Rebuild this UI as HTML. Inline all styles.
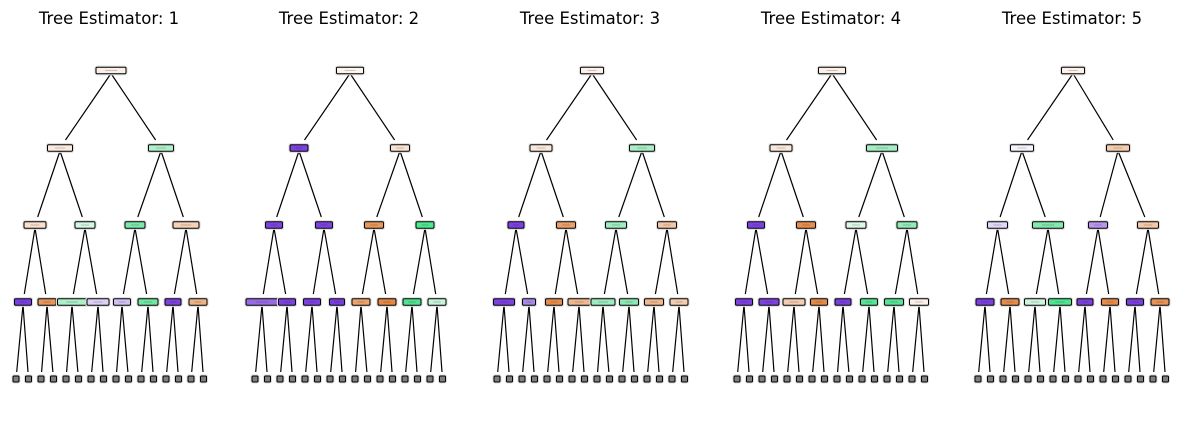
<!DOCTYPE html>
<html><head><meta charset="utf-8"><style>
html,body{margin:0;padding:0;background:#fff;}
svg{display:block;}
text{font-family:"DejaVu Sans","Liberation Sans",sans-serif;font-size:16.5px;fill:#000;}
</style></head><body>
<svg id="s" width="1182" height="427" viewBox="0 0 1182 427" xmlns="http://www.w3.org/2000/svg">
<rect width="1182" height="427" fill="#fff"/>
<g id="g"></g>
<text x="109" y="24" text-anchor="middle">Tree Estimator: 1</text>
<text x="349" y="24" text-anchor="middle">Tree Estimator: 2</text>
<text x="590" y="24" text-anchor="middle">Tree Estimator: 3</text>
<text x="831" y="24" text-anchor="middle">Tree Estimator: 4</text>
<text x="1072" y="24" text-anchor="middle">Tree Estimator: 5</text>
</svg>
<script>
var Y=[70.5,148,225,302,379];
var trees=[
{dx:0,x:[[111],[60,161],[35,85,135,186],[23,47,72,98,122,148,173,198]],
 w:[[30],[25,25],[22,20,20,26],[17,18,29,22,17,20,16,18]],
 c:[["#fbeee6"],["#fbeadf","#b0f0cb"],["#f9dfcc","#d3f7e2","#7ce9ab","#f6d1b5"],["#7b3ee0","#e9965a","#abf0c8","#ddd0f6","#d0c0f4","#6ee7a3","#7d42e1","#efb388"]]},
{dx:239,x:[[111],[60,161],[35,85,135,186],[23,48,73,98,122,148,173,198]],
 w:[[27],[18,19],[17,17,19,18],[32,17,17,15,18,18,18,18]],
 c:[["#fdf4ee"],["#7d40e1","#f8e3d3"],["#7d43e1","#7d43e1","#e9975b","#4de88f"],["#9a6ae6","#7c41e0","#7c41e0","#7a3de0","#eca36e","#e68844","#4fe490","#c6f4d9"]]},
{dx:481,x:[[111],[60,161],[35,85,135,186],[23,48,73,98,122,148,173,198]],
 w:[[23],[22,25],[16,19,21,19],[21,13,17,22,24,19,19,18]],
 c:[["#fcf1ea"],["#fae8dc","#a8efc6"],["#7d40e1","#eba06a","#9eedc0","#f3c7a6"],["#7c41e0","#a98ae9","#e78d4b","#f0b88f","#9cecbf","#8be9b3","#f0b88e","#f5cdb0"]]},
{dx:721,x:[[111],[60,161],[35,85,135,186],[23,48,73,98,122,148,173,198]],
 w:[[27],[22,31],[17,19,20,20],[17,20,22,17,16,17,19,19]],
 c:[["#fcefe6"],["#fae8dc","#a4eec4"],["#7d40e1","#e78e4e","#dcf9e8","#93ebb9"],["#7d40e1","#7d40e1","#f4cdb0","#e48a47","#7a3ee0","#55e596","#57e497","#fcf0e8"]]},
{dx:962,x:[[111],[60,156],[35.5,86,136,186],[23,48,73,98,123,148,173,198]],
 w:[[23],[23,23],[20,31,19,21],[18,18,21,23,16,17,17,18]],
 c:[["#fcf1ea"],["#f5f3fb","#f6ccae"],["#e0d6f8","#82eaae","#b995ee","#f4c7a6"],["#7b3fe0","#e68d4b","#cff5df","#4ee590","#7b3fe0","#e78c4a","#7b3fe0","#e89255"]]}
];
var out="";
trees.forEach(function(t){
  // leaves
  var lx=[];for(var i=0;i<16;i++)lx.push(16+12.5*i);
  var X=t.x.concat([lx]);
  // edges
  for(var l=0;l<4;l++){
    for(var i=0;i<X[l].length;i++){
      for(var k=0;k<2;k++){
        var px=X[l][i]+t.dx,py=Y[l]+3,cx=X[l+1][2*i+k]+t.dx,cy=Y[l+1];
        var ey=cy-(l==3?7:8);
        var f=(ey-py)/(cy-py);
        var ex=px+(cx-px)*f;
        out+='<line x1="'+px+'" y1="'+py+'" x2="'+ex.toFixed(1)+'" y2="'+ey+'" stroke="#000" stroke-width="1.2"/>';
      }
    }
  }
  for(var l=0;l<4;l++){
    for(var i=0;i<X[l].length;i++){
      var w=t.w[l][i],h=6.5,x=X[l][i]+t.dx-w/2,y=Y[l]-h/2;
      out+='<rect x="'+(x-1)+'" y="'+(y-1)+'" width="'+(w+2)+'" height="'+(h+2)+'" rx="2" fill="none" stroke="#ddd" stroke-width="1.2"/>';
      out+='<rect x="'+x+'" y="'+y+'" width="'+w+'" height="'+h+'" rx="1.2" fill="'+t.c[l][i]+'" stroke="#000" stroke-width="1"/>';
      out+='<line x1="'+(x+w*0.3)+'" y1="'+(y+h/2)+'" x2="'+(x+w*0.7)+'" y2="'+(y+h/2)+'" stroke="#000" stroke-opacity="0.25" stroke-width="0.8"/>';
    }
  }
  for(var i=0;i<16;i++){
    var x=lx[i]+t.dx-3,y=Y[4]-3;
    out+='<rect x="'+(x-1)+'" y="'+(y-1)+'" width="8" height="8" rx="2" fill="none" stroke="#ddd" stroke-width="1"/>';
    out+='<rect x="'+x+'" y="'+y+'" width="6" height="6" rx="1" fill="#7f7f7f" stroke="#000" stroke-width="1"/>';
  }
});
document.getElementById("g").innerHTML=out;
</script>
</body></html>
